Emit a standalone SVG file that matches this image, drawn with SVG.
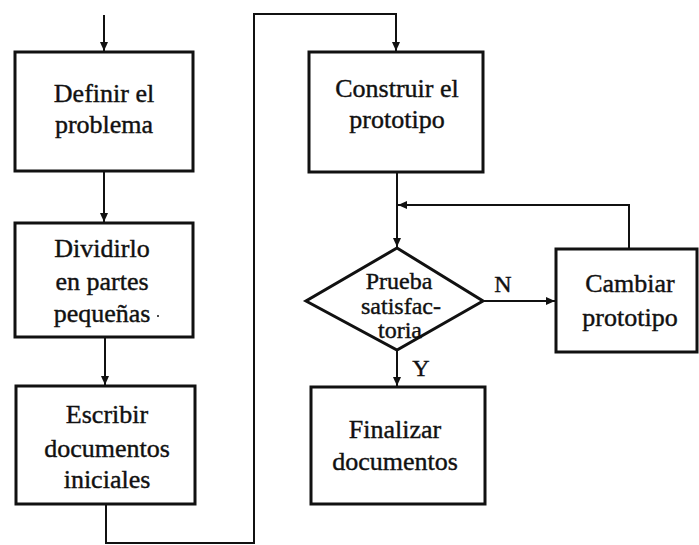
<svg xmlns="http://www.w3.org/2000/svg" width="699" height="545" viewBox="0 0 699 545">
<style>
.box{fill:#fff;stroke:#111;stroke-width:3}
.conn{fill:none;stroke:#111;stroke-width:2}
text{font-family:'Liberation Serif','DejaVu Serif',serif;font-size:26px;fill:#111;stroke:#111;stroke-width:0.4;text-anchor:middle}
.d{font-size:24px}
</style>
<defs>
<marker id="ah" markerUnits="userSpaceOnUse" markerWidth="10" markerHeight="8" refX="9" refY="4" orient="auto">
<path d="M0,0 L9,4 L0,8 z" fill="#111"/>
</marker>
</defs>
<rect width="699" height="545" fill="#fff"/>
<g id="connectors">
<path class="conn" d="M104,15 V51" marker-end="url(#ah)"/>
<path class="conn" d="M104,171 V222" marker-end="url(#ah)"/>
<path class="conn" d="M105,337 V385" marker-end="url(#ah)"/>
<path class="conn" d="M106,504 V543 H254 V14 H396 V51" marker-end="url(#ah)"/>
<path class="conn" d="M397,172 V247" marker-end="url(#ah)"/>
<path class="conn" d="M483,301 H555" marker-end="url(#ah)"/>
<path class="conn" d="M629,249 V205 H398" marker-end="url(#ah)"/>
<path class="conn" d="M397,350 V386" marker-end="url(#ah)"/>
</g>
<g id="n1">
<rect class="box" x="15" y="52" width="178" height="119"/>
<text x="104" y="102">Definir el</text>
<text x="104" y="133">problema</text>
</g>
<g id="n2">
<rect class="box" x="15" y="223" width="178" height="114"/>
<text x="102" y="257">Dividirlo</text>
<text x="102" y="290">en partes</text>
<text x="102" y="322">pequeñas</text>
<circle cx="158" cy="316" r="1" fill="#111"/>
</g>
<g id="n3">
<rect class="box" x="16" y="386" width="179" height="118"/>
<text x="107" y="423">Escribir</text>
<text x="107" y="457">documentos</text>
<text x="107" y="488">iniciales</text>
</g>
<g id="n4">
<rect class="box" x="309" y="52" width="174" height="120"/>
<text x="397" y="97">Construir el</text>
<text x="397" y="128">prototipo</text>
</g>
<g id="n5">
<path class="box" d="M397,248 L483,301 L397,350 L306,301 Z"/>
<text class="d" x="399" y="289">Prueba</text>
<text class="d" x="401" y="314">satisfac-</text>
<text class="d" x="400" y="338">toria</text>
</g>
<g id="n6">
<rect class="box" x="556" y="249" width="141" height="103"/>
<text x="630" y="292">Cambiar</text>
<text x="630" y="326">prototipo</text>
</g>
<g id="n7">
<rect class="box" x="311" y="387" width="174" height="117"/>
<text x="395" y="438">Finalizar</text>
<text x="395" y="470">documentos</text>
</g>
<g id="labels">
<text class="d" x="503" y="292">N</text>
<text class="d" x="421" y="376">Y</text>
</g>
</svg>
